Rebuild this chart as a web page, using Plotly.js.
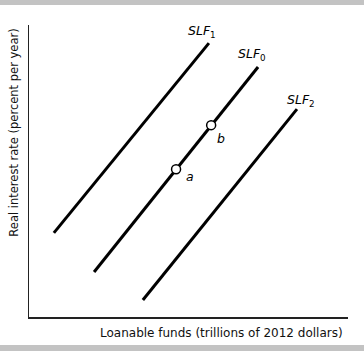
<!DOCTYPE html>
<html><head><meta charset="utf-8">
<script src="https://cdn.plot.ly/plotly-3.0.1.min.js"></script>
<style>html,body{margin:0;padding:0;background:#fff;}#chart{width:364px;height:351px;}</style>
</head><body><div id="chart"></div>
<script>
// Supply of loanable funds curves (x: loanable funds, y: real interest rate), arbitrary units
const slf1X = [0.78, 5.64];
const slf1Y = [2.88, 9.38];
const slf0X = [2.04, 7.18];
const slf0Y = [1.54, 8.56];
const slf2X = [3.57, 8.40];
const slf2Y = [0.58, 7.12];
const pointNames = ['a', 'b'];
const pointX = [4.61, 5.71];
const pointY = [5.06, 6.57];
const curveLabels = ['<i>SLF</i><sub>1</sub>', '<i>SLF</i><sub>0</sub>', '<i>SLF</i><sub>2</sub>'];
const xTitle = 'Loanable funds (trillions of 2012 dollars)';
const yTitle = 'Real interest rate (percent per year)';

const lineStyle = {color: '#000', width: 3};
const traces = [
  {x: slf1X, y: slf1Y, mode: 'lines', line: lineStyle, hoverinfo: 'skip'},
  {x: slf0X, y: slf0Y, mode: 'lines', line: lineStyle, hoverinfo: 'skip'},
  {x: slf2X, y: slf2Y, mode: 'lines', line: lineStyle, hoverinfo: 'skip'},
  {x: pointX, y: pointY, mode: 'markers',
   marker: {size: 9, color: '#fff', line: {color: '#000', width: 1.5}}, hoverinfo: 'skip'}
];

const fontFam = '"DejaVu Sans", sans-serif';
const lblFont = {family: fontFam, size: 12.5, color: '#000'};
const annotations = [
  {x: slf1X[1], y: slf1Y[1], text: curveLabels[0], xshift: -7, yshift: 12},
  {x: slf0X[1], y: slf0Y[1], text: curveLabels[1], xshift: -6, yshift: 13},
  {x: slf2X[1], y: slf2Y[1], text: curveLabels[2], xshift: 4, yshift: 9},
  {x: pointX[0], y: pointY[0], text: '<i>' + pointNames[0] + '</i>', xshift: 14, yshift: -7},
  {x: pointX[1], y: pointY[1], text: '<i>' + pointNames[1] + '</i>', xshift: 10, yshift: -13}
].map(a => Object.assign({showarrow: false, font: lblFont, xref: 'x', yref: 'y'}, a));

annotations.push({xref: 'paper', yref: 'paper', x: 0.99, y: -0.025, xanchor: 'right', yanchor: 'top',
  text: xTitle, showarrow: false, font: {family: fontFam, size: 12, color: '#111'}});
annotations.push({xref: 'paper', yref: 'paper', x: -0.02, y: 0.993, xanchor: 'right', yanchor: 'top',
  textangle: -90, text: yTitle, showarrow: false, font: {family: fontFam, size: 11.5, color: '#111'}});

const layout = {
  width: 364, height: 351,
  margin: {l: 29, r: 16, t: 25, b: 34},
  paper_bgcolor: '#fff', plot_bgcolor: '#fff',
  showlegend: false,
  xaxis: {range: [0, 10], showline: true, linecolor: '#222', linewidth: 1.5, showgrid: false,
          zeroline: false, showticklabels: false, ticks: '', fixedrange: true},
  yaxis: {range: [0, 10], showline: true, linecolor: '#222', linewidth: 1.5, showgrid: false,
          zeroline: false, showticklabels: false, ticks: '', fixedrange: true},
  annotations: annotations,
  shapes: [
    {type: 'rect', xref: 'paper', yref: 'paper', x0: -0.1, x1: 1.1, y0: 1.0685, y1: 1.1, fillcolor: '#c3c3c3', line: {width: 0}},
    {type: 'rect', xref: 'paper', yref: 'paper', x0: -0.1, x1: 1.1, y0: -0.12, y1: -0.0959, fillcolor: '#c3c3c3', line: {width: 0}}
  ]
};

Plotly.newPlot('chart', traces, layout, {displayModeBar: false, staticPlot: true});
</script></body></html>
